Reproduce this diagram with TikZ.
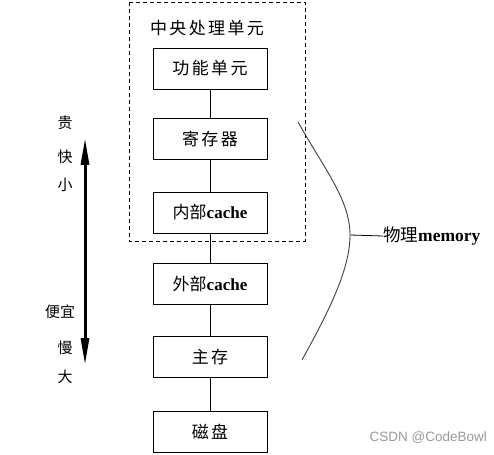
\documentclass[tikz,border=0pt]{standalone}
\usepackage{fontspec}
\setmainfont{Liberation Serif}
\newfontfamily\cjk[LetterSpace=14]{Noto Sans CJK SC}
\newfontfamily\cjkl{Noto Sans CJK SC}
\newfontfamily\wmfont{Liberation Sans}
\usetikzlibrary{arrows.meta}
\begin{document}
\begin{tikzpicture}[x=1pt,y=-1pt,
  membox/.style={draw=black,line width=0.9pt,minimum width=114pt,minimum height=41pt,inner sep=0pt,font=\fontsize{17}{17}\selectfont},
  link/.style={draw=black,line width=0.8pt},
  sidelbl/.style={inner sep=0pt,font=\cjkl\fontsize{15}{15}\selectfont}]
\useasboundingbox (0,0) rectangle (494,454);
\draw[black,line width=0.9pt,dash pattern=on 4pt off 3pt] (129,2) rectangle (305,241);
\node[inner sep=0pt,font=\fontsize{17}{17}\selectfont] (cpu) at (207,28) {\cjk 中央处理单元};
\node[membox] (b1) at (210,68.5) {\cjk 功能单元};
\node[membox] (b2) at (210,138.5) {\cjk 寄存器};
\node[membox] (b3) at (210,212.5) {{\cjkl 内部}\textbf{cache}};
\node[membox] (b4) at (210,284) {{\cjkl 外部}\textbf{cache}};
\node[membox] (b5) at (210,357) {\cjk 主存};
\node[membox] (b6) at (210,432) {\cjk 磁盘};
\draw[link] (b1.south) -- (b2.north);
\draw[link] (b2.south) -- (b3.north);
\draw[link] (b3.south) -- (b4.north);
\draw[link] (b4.south) -- (b5.north);
\draw[link] (b5.south) -- (b6.north);
% left scale
\coordinate (atop) at (85,138);
\coordinate (abot) at (85,365);
\draw[line width=3pt,{Triangle[length=27pt,width=8pt]}-{Triangle[length=27pt,width=8pt]}] (atop) -- (abot);
\node[sidelbl] (l1) at (65,123) {贵};
\node[sidelbl] (l2) at (65,157) {快};
\node[sidelbl] (l3) at (65,185) {小};
\node[sidelbl] (l4) at (60,312) {便宜};
\node[sidelbl] (l5) at (65,348) {慢};
\node[sidelbl] (l6) at (65,377) {大};
% memory brace curve
\coordinate (cm) at (350,235);
\draw[line width=0.9pt,black!75] (298,122) .. controls (325,170) and (350,200) .. (cm) .. controls (350,272) and (325,318) .. (302,360);
\node[inner sep=0pt,anchor=west,font=\fontsize{17.5}{17.5}\selectfont] (mem) at (383,236) {{\cjkl 物理}\textbf{memory}};
\draw[link] (cm) -- (mem.west);
\node[inner sep=0pt,anchor=east,text=black!40,font=\wmfont\fontsize{13.5}{14}\selectfont] (wm) at (487,438) {CSDN @CodeBowl};
\end{tikzpicture}
\end{document}
